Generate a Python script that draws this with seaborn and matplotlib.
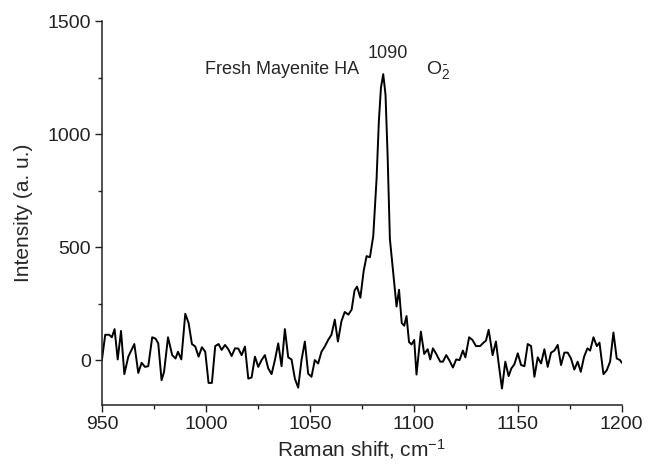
import numpy as np
import pandas as pd
import seaborn as sns
import matplotlib.pyplot as plt
from matplotlib.ticker import MultipleLocator

# Raman shift (cm-1) and intensity
shift = [950.0, 951.6, 953.5, 954.8, 956.1, 957.6, 959.2, 960.8, 962.7, 965.6,
         967.5, 969.1, 970.7, 972.3, 974.2, 975.8, 977.1, 978.7, 979.9, 981.8,
         983.8, 985.4, 986.6, 988.2, 990.1, 991.7, 993.3, 994.9, 996.5, 998.1,
         999.7, 1001.3, 1002.9, 1004.5, 1006.1, 1007.6, 1009.2, 1010.8, 1012.4, 1014.0,
         1015.6, 1017.2, 1018.8, 1020.4, 1022.0, 1023.6, 1025.2, 1026.8, 1028.4, 1030.0,
         1031.6, 1033.2, 1034.8, 1036.4, 1038.0, 1039.6, 1041.2, 1042.8, 1044.4, 1046.0,
         1047.6, 1049.2, 1050.8, 1052.4, 1054.0, 1055.6, 1057.2, 1058.8, 1060.4, 1062.0,
         1063.5, 1065.2, 1066.8, 1068.5, 1070.1, 1071.5, 1072.7, 1074.3, 1075.9, 1077.3,
         1078.9, 1080.5, 1082.1, 1083.2, 1084.2, 1085.3, 1086.4, 1087.4, 1088.5, 1090.1,
         1091.7, 1092.9, 1094.2, 1095.4, 1096.5, 1097.7, 1098.9, 1100.2, 1101.3, 1103.4,
         1105.0, 1106.7, 1107.9, 1109.2, 1110.8, 1112.7, 1114.0, 1115.6, 1117.2, 1118.8,
         1120.4, 1122.0, 1123.6, 1124.8, 1126.6, 1128.2, 1129.9, 1131.9, 1133.5, 1134.7,
         1136.0, 1137.9, 1139.5, 1140.8, 1142.4, 1144.0, 1145.6, 1146.9, 1148.4, 1150.0,
         1151.6, 1153.2, 1154.8, 1156.4, 1158.0, 1159.6, 1161.2, 1162.8, 1164.4, 1166.0,
         1167.6, 1169.2, 1170.8, 1172.4, 1174.0, 1175.6, 1177.2, 1178.8, 1180.3, 1181.9,
         1183.5, 1184.8, 1186.4, 1188.0, 1189.3, 1191.2, 1192.8, 1194.4, 1196.0, 1197.6,
         1199.2, 1200.0]
intensity = [0, 112, 112, 101, 137, 3, 129, -62, 15, 71,
             -57, -12, -30, -27, 101, 95, 74, -89, -52, 101,
             22, 7, 37, 3, 205, 164, 71, 60, 15, 57,
             37, -101, -101, 62, 71, 45, 67, 48, 18, 52,
             51, 22, 60, -82, -77, 15, -30, 0, 22, -37,
             -62, 0, 74, -27, 137, 12, 3, -82, -122, 0,
             82, -60, -74, 0, -15, 37, 60, 89, 112, 179,
             82, 172, 213, 201, 223, 308, 325, 276, 395, 460,
             455, 549, 803, 1058, 1205, 1265, 1174, 906, 536, 388,
             237, 311, 164, 152, 195, 80, 69, 89, -64, 126,
             27, 48, 3, 52, 27, -7, -7, 22, -3, -33,
             3, 0, 42, 12, 101, 89, 62, 62, 77, 86,
             134, 22, 82, -15, -126, -7, -71, -37, -18, 30,
             -22, -27, 71, 62, -74, 12, -15, 48, -30, 33,
             42, 67, -22, 33, 33, 7, -42, -7, -52, 15,
             52, 42, 101, 62, 77, -62, -45, -7, 122, 7,
             0, -12]

x_ticks = [950, 1000, 1050, 1100, 1150, 1200]
y_ticks = [0, 500, 1000, 1500]

df = pd.DataFrame({'shift': shift, 'intensity': intensity})

sns.set_style('ticks')
plt.rcParams['font.family'] = ['Liberation Sans', 'DejaVu Sans']
plt.rcParams['mathtext.fontset'] = 'custom'
plt.rcParams['mathtext.rm'] = 'Liberation Sans'
plt.rcParams['mathtext.it'] = 'Liberation Sans:italic'

fig, ax = plt.subplots(figsize=(6.49, 4.68), dpi=100)
fig.subplots_adjust(left=0.157, right=0.958, bottom=0.134, top=0.955)

sns.lineplot(data=df, x='shift', y='intensity', ax=ax, color='black',
             linewidth=1.4, sort=False)

ax.set_xlim(950, 1200)
ax.set_ylim(-200, 1500)
ax.set_xticks(x_ticks)
ax.set_yticks(y_ticks)
ax.xaxis.set_minor_locator(MultipleLocator(25))
ax.yaxis.set_minor_locator(MultipleLocator(250))
ax.tick_params(which='major', direction='out', length=5, width=1, labelsize=14,
               colors='#222222', pad=3)
ax.tick_params(which='minor', direction='out', length=3, width=1, colors='#222222')
for s in ['left', 'bottom']:
    ax.spines[s].set_linewidth(1.1)
    ax.spines[s].set_color('#222222')
sns.despine(ax=ax)

ax.set_xlabel('Raman shift, cm$^{-1}$', fontsize=15, labelpad=3)
ax.set_ylabel('Intensity (a. u.)', fontsize=15, labelpad=10)

ax.text(1073.5, 1285, 'Fresh Mayenite HA', fontsize=13, ha='right', va='center')
ax.text(1087.7, 1355, '1090', fontsize=13, ha='center', va='center')
ax.text(1106, 1285, '$\\mathrm{O}_2^{\\bar{\\ }}$', fontsize=14, ha='left', va='center')

fig.savefig('out.png', dpi=100)
